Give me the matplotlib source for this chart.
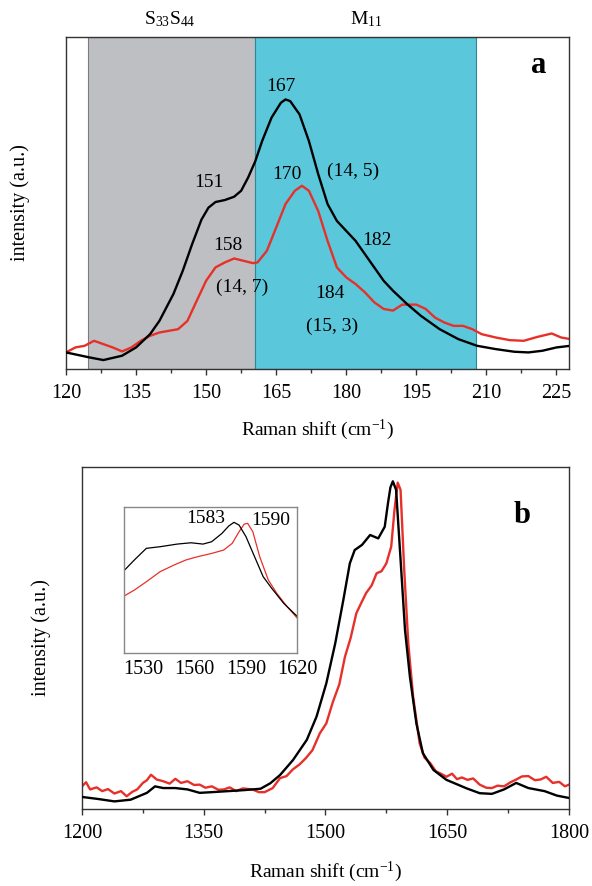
import matplotlib
matplotlib.use("Agg")
import matplotlib.pyplot as plt
import numpy as np

plt.rcParams['font.family'] = ['Liberation Serif', 'DejaVu Serif']
plt.rcParams['mathtext.fontset'] = 'custom'
plt.rcParams['mathtext.rm'] = 'Liberation Serif'
plt.rcParams['mathtext.it'] = 'Liberation Serif:italic'

# ---------------- Panel a data (RBM region) ----------------
a_black_x = [120, 125, 128, 132, 135, 138, 140, 143, 145, 147, 149, 150.5, 152, 154, 156, 157.5, 159, 160.5, 162,
             164, 166, 167, 168, 170, 172, 174, 176, 178, 180, 182, 184, 186, 188, 190, 193, 196, 200, 204, 208, 212,
             216, 219, 222, 225, 228]
a_black_y = [5.0, 3.5, 2.7, 4.0, 6.5, 10.5, 14.5, 22.6, 29.6, 37.6, 45.0, 48.6, 50.3, 50.9, 51.9, 53.7, 57.7, 62.5,
             68.7, 75.7, 80.2, 81.2, 80.7, 76.7, 68.7, 58.7, 49.7, 44.6, 41.6, 38.6, 34.6, 30.6, 26.6, 23.6, 19.6,
             16.0, 12.0, 9.0, 7.0, 6.0, 5.2, 5.0, 5.5, 6.5, 7.0]
a_red_x = [120, 122, 124, 126, 128, 130, 132, 134, 136, 138, 140, 142, 144, 146, 148, 150, 152, 154, 156, 158, 160,
           161, 163, 165, 167, 169, 170.5, 172, 174, 176, 178, 180, 182, 184, 186, 188, 190, 192, 195, 197, 199, 201,
           203, 205, 207, 209, 212, 215, 218, 221, 224, 226, 228]
a_red_y = [5.0, 6.5, 7.0, 8.5, 7.5, 6.5, 5.3, 6.5, 8.5, 10.0, 11.0, 11.5, 12.0, 14.5, 20.6, 26.6, 30.6, 32.1, 33.3,
           32.6, 31.9, 32.1, 35.6, 42.6, 49.7, 53.7, 55.2, 53.7, 47.6, 38.6, 30.6, 27.6, 25.6, 23.1, 20.1, 18.1, 17.6,
           19.4, 19.4, 18.1, 15.5, 14.0, 13.0, 13.0, 12.0, 10.5, 9.5, 8.7, 8.5, 9.7, 10.7, 9.5, 9.0]
a_semi_range = [124.7, 160.5]
a_metal_range = [160.5, 207.8]
a_region_labels = ["S$_{33}$S$_{44}$", "M$_{11}$"]
a_region_label_x = [142.2, 184.2]
a_peak_labels = ["167", "151", "170", "(14, 5)", "182", "158", "(14, 7)", "184", "(15, 3)"]
a_peak_x = [166.0, 150.5, 167.4, 181.5, 186.5, 154.6, 157.8, 176.5, 176.9]
a_peak_y = [85.0, 56.2, 58.7, 59.5, 38.8, 37.1, 24.6, 22.8, 13.0]
a_ticks = [120, 135, 150, 165, 180, 195, 210, 225]

# ---------------- Panel b data (G band region) ----------------
b_black_x = [1200, 1220, 1240, 1260, 1280, 1290, 1300, 1315, 1330, 1345, 1360, 1380, 1400, 1420, 1432, 1444, 1460,
             1477, 1489, 1501, 1512, 1522, 1530, 1536, 1545, 1555, 1565, 1573, 1577, 1580, 1583, 1587, 1592, 1598,
             1604, 1612, 1620, 1633, 1649, 1674, 1690, 1705, 1720, 1735, 1750, 1770, 1785, 1800]
b_black_y = [3.5, 2.9, 2.2, 2.7, 4.7, 6.6, 6.1, 6.1, 5.7, 4.7, 4.9, 5.2, 5.5, 5.9, 7.5, 9.9, 14.3, 20.2, 27.0, 36.7,
             48.4, 61.1, 71.8, 75.7, 77.2, 80.1, 79.1, 82.5, 89.4, 94.0, 95.8, 93.3, 74.8, 52.3, 38.7, 25.0, 16.3,
             11.4, 8.5, 6.0, 4.6, 4.4, 5.7, 7.6, 6.1, 5.2, 3.9, 3.2]
b_red_x = [1200, 1205, 1210, 1218, 1225, 1232, 1240, 1248, 1255, 1262, 1268, 1275, 1280, 1285, 1292, 1300, 1308,
           1315, 1322, 1330, 1338, 1345, 1352, 1360, 1368, 1375, 1382, 1390, 1398, 1410, 1418, 1425, 1435, 1444,
           1452, 1460, 1468, 1476, 1484, 1493, 1501, 1509, 1517, 1524, 1531, 1538, 1544, 1550, 1557, 1563, 1569,
           1575, 1581, 1585, 1589, 1592.5, 1597, 1602, 1608, 1616, 1622, 1629, 1636, 1643, 1649, 1656, 1662, 1668,
           1675, 1682, 1690, 1698, 1705, 1712, 1720, 1728, 1735, 1742, 1750, 1758, 1765, 1772, 1780, 1788, 1795,
           1800]
b_red_y = [6.6, 7.8, 5.7, 6.3, 5.2, 5.8, 4.5, 5.2, 3.7, 5.0, 5.7, 7.6, 8.4, 10.0, 8.6, 8.1, 7.4, 8.8, 7.6, 8.1,
           7.0, 7.1, 6.2, 6.6, 5.6, 5.7, 6.3, 5.2, 6.0, 5.7, 4.9, 4.9, 6.1, 9.0, 9.6, 11.6, 13.0, 14.9, 17.2, 22.1,
           25.0, 31.2, 36.4, 44.5, 50.0, 57.2, 60.2, 63.1, 65.4, 68.9, 69.5, 71.8, 76.7, 87.4, 95.4, 93.3, 69.9, 48.4,
           32.8, 19.2, 15.0, 13.4, 11.0, 10.2, 9.4, 10.3, 8.7, 9.2, 8.5, 8.9, 7.1, 6.2, 6.1, 6.8, 6.6, 7.8, 8.6, 9.5,
           9.6, 8.4, 8.6, 9.4, 7.6, 7.9, 6.6, 7.1]
b_ticks = [1200, 1350, 1500, 1650, 1800]

# inset data
i_black_x = [1519, 1525, 1532, 1540, 1550, 1558, 1565, 1570, 1576, 1580, 1583, 1586, 1590, 1595, 1600, 1605, 1612,
             1620]
i_black_y = [56.2, 63.5, 71.5, 72.6, 74.4, 75.3, 74.4, 76.0, 81.7, 86.8, 89.3, 87.4, 79.5, 65.8, 52.1, 44.1, 33.8,
             24.7]
i_red_x = [1519, 1525, 1532, 1540, 1548, 1555, 1562, 1570, 1577, 1582, 1586, 1589, 1591, 1594, 1598, 1603, 1608,
           1614, 1620]
i_red_y = [38.8, 42.9, 48.6, 55.5, 60.0, 63.5, 65.8, 68.0, 70.3, 74.9, 82.9, 88.1, 88.6, 82.9, 65.8, 49.8, 40.6,
           31.5, 23.5]
i_ticks = [1530, 1560, 1590, 1620]
i_peak_labels = ["1583", "1590"]
i_peak_x = [1566.5, 1604.5]
i_peak_y = [92.0, 90.4]

BLACK = '#000000'
RED = '#e8302a'
GRAY = '#bdbfc2'
CYAN = '#5bc7db'
SPINE = '#333333'

fig = plt.figure(figsize=(5.92, 8.86), dpi=100)

def style_axes(ax):
    for s in ax.spines.values():
        s.set_color(SPINE)
        s.set_linewidth(1.0)
    ax.set_yticks([])
    ax.tick_params(axis='x', which='major', direction='out', length=4, width=1, labelsize=14.5, pad=7,
                   color=SPINE)
    ax.tick_params(axis='x', which='minor', direction='out', length=3, width=1, color=SPINE)

# ---- panel a ----
axa = fig.add_axes([0.1115, 0.5835, 0.8497, 0.3747])
axa.axvspan(*a_semi_range, facecolor=GRAY, edgecolor='#7a7c80', linewidth=0.8, zorder=0)
axa.axvspan(*a_metal_range, facecolor=CYAN, edgecolor='#2a8a9a', linewidth=0.8, zorder=0)
axa.plot(a_red_x, a_red_y, color=RED, lw=1.7, zorder=2)
axa.plot(a_black_x, a_black_y, color=BLACK, lw=1.7, zorder=3)
axa.set_xlim(120, 227.7)
axa.set_ylim(0, 100)
axa.set_xticks(a_ticks)
axa.set_xticks(np.arange(120, 228, 7.5), minor=True)
style_axes(axa)
for t, x, y in zip(a_peak_labels, a_peak_x, a_peak_y):
    axa.text(x, y, t, ha='center', va='center', fontsize=14)
for t, x in zip(a_region_labels, a_region_label_x):
    axa.text(x, 102.5, t, ha='center', va='bottom', fontsize=14, clip_on=False)
axa.text(221.3, 91.3, 'a', ha='center', va='center', fontsize=22, fontweight='bold')
axa.set_xlabel('Raman shift (cm$^{-1}$)', fontsize=14, labelpad=10)
axa.set_ylabel('intensity (a.u.)', fontsize=14.5, labelpad=26)

# ---- panel b ----
axb = fig.add_axes([0.1385, 0.0870, 0.8226, 0.3860])
axb.plot(b_red_x, b_red_y, color=RED, lw=1.7, zorder=2)
axb.plot(b_black_x, b_black_y, color=BLACK, lw=1.7, zorder=3)
axb.set_xlim(1200, 1800)
axb.set_ylim(0, 100)
axb.set_xticks(b_ticks)
axb.set_xticks(np.arange(1200, 1801, 75), minor=True)
style_axes(axb)
axb.text(1741.7, 85.7, 'b', ha='center', va='center', fontsize=22, fontweight='bold')
axb.set_xlabel('Raman shift (cm$^{-1}$)', fontsize=14, labelpad=12)
axb.set_ylabel('intensity (a.u.)', fontsize=14.5, labelpad=22)

# ---- inset ----
axi = fig.add_axes([0.2095, 0.2633, 0.2930, 0.1648])
axi.plot(i_red_x, i_red_y, color=RED, lw=0.9)
axi.plot(i_black_x, i_black_y, color=BLACK, lw=0.9)
axi.set_xlim(1519, 1620)
axi.set_ylim(0, 100)
axi.set_xticks(i_ticks)
axi.set_yticks([])
for s in axi.spines.values():
    s.set_color('#888888')
    s.set_linewidth(1.0)
axi.tick_params(axis='x', length=0, labelsize=14.5, pad=5)
for t, x, y in zip(i_peak_labels, i_peak_x, i_peak_y):
    axi.text(x, y, t, ha='center', va='center', fontsize=14)

fig.savefig('out.png', dpi=100)
